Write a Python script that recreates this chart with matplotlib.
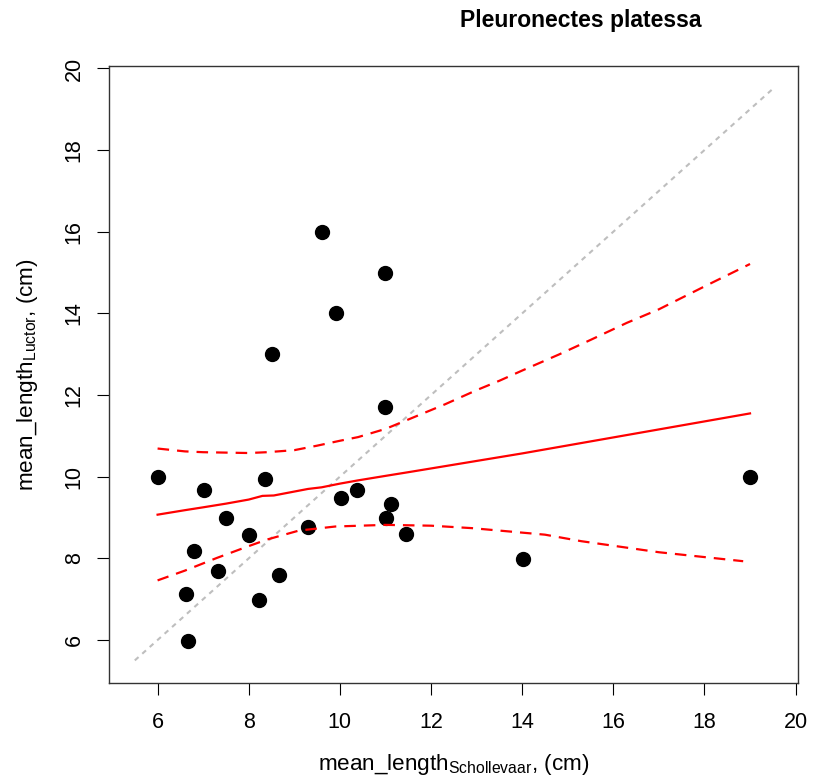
import matplotlib
matplotlib.use('Agg')
import matplotlib.pyplot as plt

plt.rcParams['font.family'] = ['Liberation Sans', 'DejaVu Sans']
plt.rcParams['mathtext.fontset'] = 'custom'
plt.rcParams['mathtext.rm'] = 'Liberation Sans'

len_schollevaar = [6.0, 7.02, 8.36, 7.51, 8.0, 6.8, 7.32, 6.62, 8.66, 8.22, 6.66, 10.02,
                   9.31, 10.37, 9.6, 11.0, 9.91, 8.52, 11.0, 11.12, 11.01, 11.45, 14.01, 19.0]
len_luctor = [10.0, 9.67, 9.95, 9.0, 8.56, 8.18, 7.68, 7.13, 7.6, 6.99, 5.98, 9.49,
              8.78, 9.67, 16.0, 15.0, 14.0, 13.0, 11.71, 9.34, 9.0, 8.6, 7.99, 10.0]

# fitted line and confidence band
fit_x = [6.0, 6.6, 7.0, 7.5, 8.0, 8.3, 8.55, 9.3, 9.6, 10.0, 10.4, 11.0, 11.5, 14.0, 19.0]
fit_y = [9.07, 9.18, 9.25, 9.34, 9.44, 9.53, 9.54, 9.70, 9.74, 9.83, 9.91, 10.02, 10.11, 10.57, 11.55]

upper_x = [6.0, 6.6, 7.0, 8.0, 8.4, 9.0, 9.5, 10.0, 10.4, 11.0, 11.5, 12.3, 13.0, 13.5,
           14.0, 14.8, 15.5, 16.3, 17.0, 18.0, 19.0]
upper_y = [10.69, 10.62, 10.6, 10.58, 10.6, 10.65, 10.76, 10.88, 10.97, 11.17, 11.4, 11.77,
           12.12, 12.35, 12.6, 12.99, 13.35, 13.77, 14.1, 14.66, 15.21]

lower_x = [6.0, 6.6, 7.3, 8.0, 8.4, 9.1, 9.9, 11.0, 12.0, 12.9, 14.5, 15.3, 17.0, 18.85]
lower_y = [7.46, 7.70, 8.01, 8.30, 8.46, 8.68, 8.78, 8.82, 8.80, 8.74, 8.58, 8.42, 8.15, 7.93]

one_to_one = [5.5, 19.5]

fig = plt.figure(figsize=(8.26, 7.8), dpi=100)
ax = fig.add_axes([0.1323, 0.124, 0.8342, 0.7914])

ax.plot(one_to_one, one_to_one, color='#BEBEBE', lw=1.5, dashes=(2.4, 2.4))
ax.plot(len_schollevaar, len_luctor, 'o', color='black', ms=10, mec='black')
ax.plot(fit_x, fit_y, color='red', lw=1.6)
ax.plot(upper_x, upper_y, color='red', lw=1.6, dashes=(5.2, 3.6))
ax.plot(lower_x, lower_y, color='red', lw=1.6, dashes=(5.2, 3.6))

ax.set_xlim(4.94, 20.06)
ax.set_ylim(4.94, 20.06)
ax.set_xticks(range(6, 21, 2))
ax.set_yticks(range(6, 21, 2))

for s in ax.spines.values():
    s.set_linewidth(1.0)
    s.set_color('#333333')

ax.tick_params(direction='out', length=8.6, width=0.8, labelsize=15.5)
ax.tick_params(axis='x', pad=12)
ax.tick_params(axis='y', pad=9, labelrotation=90)
for lab in ax.get_yticklabels():
    lab.set_va('center')

ax.set_xlabel(r'mean_length$_{\mathregular{Schollevaar}}$, (cm)', fontsize=16.2)
ax.set_ylabel(r'mean_length$_{\mathregular{Luctor}}$, (cm)', fontsize=16.2)
ax.xaxis.set_label_coords(0.5, -0.132)
ax.yaxis.set_label_coords(-0.119, 0.5)
ax.xaxis.label.set_va('center')
ax.yaxis.label.set_va('center')

fig.text(581 / 826, 1 - 21 / 780, 'Pleuronectes platessa', fontsize=16.5,
         fontweight='bold', ha='center', va='center')

plt.savefig('out.png', dpi=100)
